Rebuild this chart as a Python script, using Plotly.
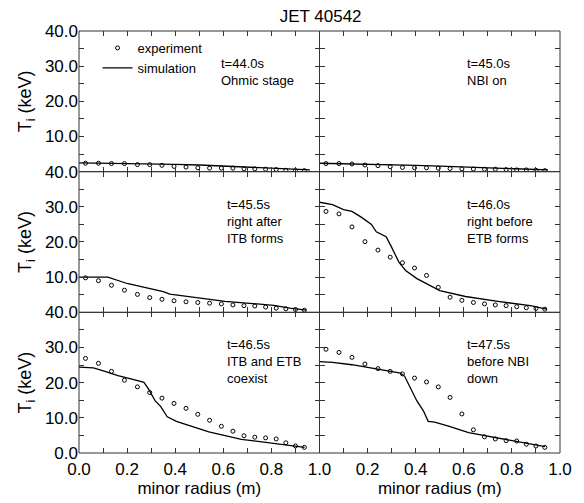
import plotly.graph_objects as go
from plotly.subplots import make_subplots

# ---------------- data ----------------
r_exp = [0.027, 0.081, 0.135, 0.189, 0.243, 0.294, 0.345, 0.395, 0.445, 0.494,
         0.543, 0.592, 0.640, 0.686, 0.731, 0.776, 0.820, 0.860, 0.900, 0.937]

exp_440 = [2.4, 2.4, 2.3, 2.3, 2.0, 2.0, 1.8, 1.5, 1.3, 1.1, 1.0, 1.0, 1.0, 0.8, 0.8, 0.7, 0.6, 0.4, 0.3, 0.3]
sim_440_r = [0.0, 0.1, 0.2, 0.3, 0.4, 0.5, 0.6, 0.7, 0.8, 0.9, 0.96]
sim_440_T = [2.5, 2.45, 2.4, 2.3, 2.1, 1.9, 1.6, 1.4, 1.1, 0.8, 0.5]

exp_450 = [2.3, 2.3, 2.2, 1.9, 1.7, 1.4, 1.2, 1.1, 1.1, 1.0, 0.9, 0.8, 0.75, 0.7, 0.7, 0.6, 0.5, 0.5, 0.4, 0.3]
sim_450_r = [0.0, 0.1, 0.2, 0.3, 0.4, 0.5, 0.6, 0.7, 0.8, 0.9, 0.95]
sim_450_T = [2.4, 2.3, 2.1, 1.95, 1.8, 1.6, 1.4, 1.2, 1.0, 0.75, 0.5]

exp_455 = [9.8, 9.0, 7.7, 6.3, 5.1, 4.2, 3.7, 3.3, 3.0, 2.8, 2.6, 2.4, 2.1, 1.9, 1.8, 1.5, 1.2, 1.0, 0.8, 0.6]
sim_455_r = [0.0, 0.05, 0.12, 0.2, 0.27, 0.324, 0.35, 0.378, 0.47, 0.607, 0.74, 0.81, 0.877, 0.945]
sim_455_T = [10.0, 10.0, 10.0, 8.2, 7.1, 6.3, 5.9, 5.2, 4.3, 3.1, 2.4, 2.0, 1.2, 0.6]

exp_460 = [28.7, 28.0, 24.3, 20.1, 17.7, 15.7, 14.1, 12.6, 10.5, 7.1, 4.3, 3.4, 2.8, 2.4, 2.1, 1.9, 1.6, 1.3, 1.1, 0.9]
sim_460_r = [0.0, 0.054, 0.10, 0.135, 0.175, 0.216, 0.236, 0.277, 0.297, 0.33, 0.358, 0.405, 0.5, 0.607, 0.742, 0.877, 0.945]
sim_460_T = [31.3, 30.6, 29.2, 28.7, 27.0, 25.0, 22.9, 21.5, 18.9, 14.3, 11.9, 9.6, 6.2, 4.5, 3.1, 1.9, 0.9]

exp_465 = [26.9, 25.5, 23.2, 20.7, 18.8, 17.2, 15.6, 14.1, 12.7, 11.0, 9.3, 7.6, 6.2, 4.9, 4.5, 4.3, 4.0, 2.9, 2.0, 1.6]
sim_465_r = [0.0, 0.06, 0.108, 0.162, 0.216, 0.27, 0.29, 0.317, 0.34, 0.367, 0.405, 0.472, 0.54, 0.675, 0.81, 0.938]
sim_465_T = [24.4, 24.2, 23.2, 22.0, 21.1, 20.1, 18.1, 14.8, 13.2, 10.3, 9.0, 7.4, 6.0, 3.9, 2.7, 1.6]

exp_475 = [29.5, 28.6, 27.2, 25.3, 24.0, 23.2, 22.5, 21.3, 20.2, 18.8, 15.8, 11.1, 6.6, 4.6, 4.0, 3.5, 3.4, 2.5, 2.0, 1.6]
sim_475_r = [0.0, 0.054, 0.135, 0.2, 0.27, 0.337, 0.354, 0.378, 0.405, 0.432, 0.452, 0.479, 0.54, 0.62, 0.715, 0.81, 0.938]
sim_475_T = [26.0, 25.8, 25.1, 24.3, 23.5, 22.7, 21.8, 18.5, 14.8, 12.0, 9.0, 8.8, 7.6, 5.8, 4.6, 3.4, 1.8]

panel_labels = ["t=44.0s<br>Ohmic stage", "t=45.0s<br>NBI on",
                "t=45.5s<br>right after<br>ITB forms", "t=46.0s<br>right before<br>ETB forms",
                "t=46.5s<br>ITB and ETB<br>coexist", "t=47.5s<br>before NBI<br>down"]

x_ticks = [0.0, 0.1, 0.2, 0.3, 0.4, 0.5, 0.6, 0.7, 0.8, 0.9, 1.0]
y_ticks = [0, 5, 10, 15, 20, 25, 30, 35, 40]

panels = [
    (1, 1, exp_440, sim_440_r, sim_440_T),
    (1, 2, exp_450, sim_450_r, sim_450_T),
    (2, 1, exp_455, sim_455_r, sim_455_T),
    (2, 2, exp_460, sim_460_r, sim_460_T),
    (3, 1, exp_465, sim_465_r, sim_465_T),
    (3, 2, exp_475, sim_475_r, sim_475_T),
]

FONT = "Liberation Sans, Arial, Helvetica, sans-serif"
LINEC = "#333"

fig = make_subplots(rows=3, cols=2, horizontal_spacing=0, vertical_spacing=0)

for i, (row, col, T_exp, r_sim, T_sim) in enumerate(panels):
    first = (i == 0)
    fig.add_trace(go.Scatter(
        x=r_exp, y=T_exp, mode="markers", name="experiment",
        marker=dict(symbol="circle-open", size=4, color="black", line=dict(width=1, color="black")),
        showlegend=first), row=row, col=col)
    fig.add_trace(go.Scatter(
        x=r_sim, y=T_sim, mode="lines", name="simulation",
        line=dict(color="black", width=1.3),
        showlegend=first), row=row, col=col)

for i, (row, col, *_rest) in enumerate(panels):
    # ---- x axis ----
    if row == 3:
        if col == 1:
            xmaj = [v for v in x_ticks if round(v * 10) % 2 == 0]
        else:
            xmaj = [v for v in x_ticks if round(v * 10) % 2 == 0 and v > 0]
        xmin = [v for v in x_ticks if v not in xmaj]
        xtitle = dict(text="minor radius (m)", font=dict(size=17), standoff=0)
        show_xl = True
    else:
        xmaj = x_ticks
        xmin = []
        xtitle = None
        show_xl = False
    fig.update_xaxes(range=[0, 1.0], tickmode="array", tickvals=xmaj,
                     ticktext=["%.1f" % v for v in xmaj], showticklabels=show_xl,
                     minor=dict(tickmode="array", tickvals=xmin, ticks="inside",
                                ticklen=5, tickwidth=1, tickcolor=LINEC, showgrid=False),
                     ticks="inside", ticklen=5, tickwidth=1, tickcolor=LINEC,
                     ticklabelstandoff=4,
                     showline=False, mirror="ticks",
                     showgrid=False, zeroline=False, title=xtitle,
                     tickfont=dict(size=17), row=row, col=col)
    # ---- y axis ----
    if col == 1:
        if row == 3:
            ymaj = [v for v in y_ticks if v % 10 == 0]
        else:
            ymaj = [v for v in y_ticks if v % 10 == 0 and v > 0]
        ymin = [v for v in y_ticks if v not in ymaj]
        ytitle = dict(text="T<sub>i</sub> (keV)", font=dict(size=18), standoff=8)
        show_yl = True
    else:
        ymaj = y_ticks
        ymin = []
        ytitle = None
        show_yl = False
    fig.update_yaxes(range=[0, 40], tickmode="array", tickvals=ymaj,
                     ticktext=["%.1f" % v for v in ymaj], showticklabels=show_yl,
                     minor=dict(tickmode="array", tickvals=ymin, ticks="inside",
                                ticklen=5, tickwidth=1, tickcolor=LINEC, showgrid=False),
                     ticks="inside", ticklen=5, tickwidth=1, tickcolor=LINEC,
                     showline=False, mirror="ticks",
                     showgrid=False, zeroline=False, title=ytitle,
                     tickfont=dict(size=17), row=row, col=col)

# panel frames and annotations
for i, (row, col, *_rest) in enumerate(panels):
    idx = (row - 1) * 2 + col
    xn = "x" if idx == 1 else "x%d" % idx
    yn = "y" if idx == 1 else "y%d" % idx
    fig.add_shape(type="rect", xref=xn + " domain", yref=yn + " domain",
                  x0=0, x1=1, y0=0, y1=1, line=dict(color=LINEC, width=1),
                  fillcolor="rgba(0,0,0,0)", layer="above")
    fig.add_annotation(x=0.583 if idx == 1 else 0.605, y=33.5, xref=xn, yref=yn,
                       text=panel_labels[i], showarrow=False, align="left",
                       xanchor="left", yanchor="top",
                       font=dict(size=13, color="black"))

fig.update_layout(
    width=584, height=503,
    margin=dict(l=79, r=12, t=31, b=44),
    paper_bgcolor="white", plot_bgcolor="white",
    font=dict(family=FONT, color="black", size=16),
    title=dict(text="JET 40542", x=0.549, xanchor="center", y=1 - 16 / 503, yanchor="middle",
               font=dict(size=17, family=FONT)),
    showlegend=True,
    legend=dict(x=(98 - 79) / 493, y=1 - (33 - 31) / 428, xanchor="left", yanchor="top",
                bgcolor="rgba(0,0,0,0)", font=dict(size=13), borderwidth=0,
                tracegroupgap=0, itemwidth=30),
)

fig.write_html("out.html")
